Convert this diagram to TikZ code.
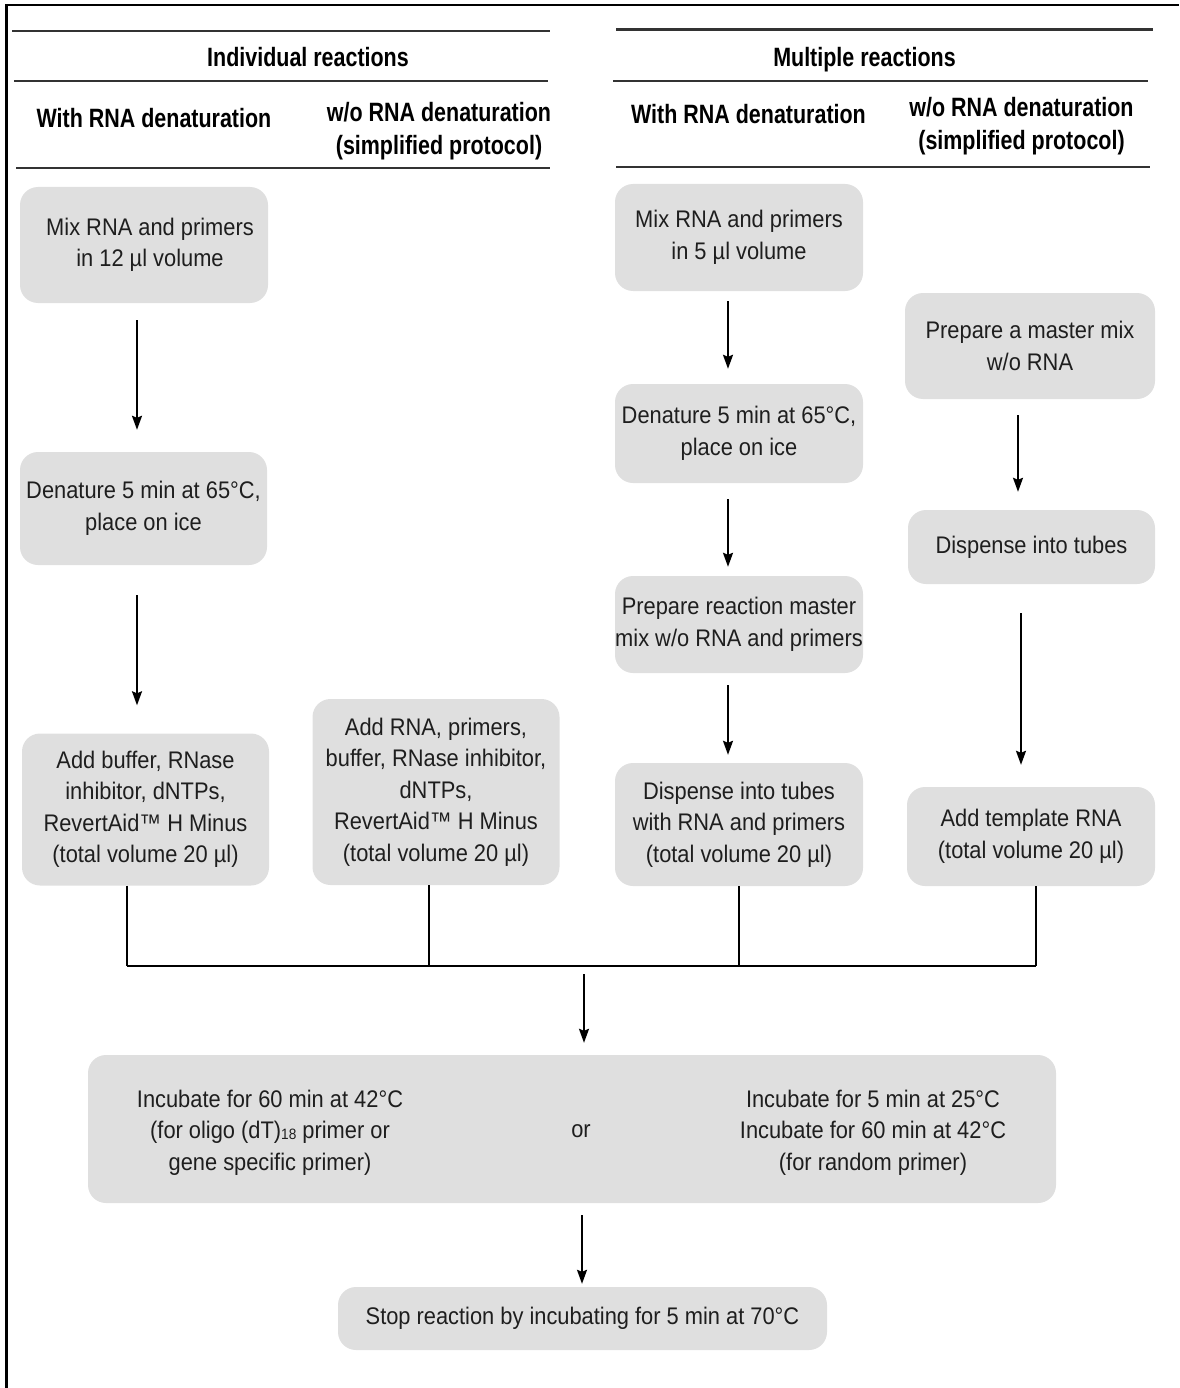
\documentclass[tikz,border=0pt]{standalone}
\usepackage{fontspec}
\setmainfont{Liberation Sans}[FakeStretch=0.91]
\newfontfamily\hdfont{Liberation Sans}[FakeStretch=0.81]
\usetikzlibrary{arrows.meta}
\definecolor{boxgray}{HTML}{DFDFDF}
\definecolor{txt}{HTML}{1E1E1E}
\definecolor{rulegray}{HTML}{333333}
\begin{document}
\begin{tikzpicture}[x=1pt,y=-1pt,
  box/.style={fill=boxgray, rounded corners=18pt, align=center, text=txt,
    font=\fontsize{24}{31.5}\selectfont, inner sep=0pt},
  bodytxt/.style={align=center, text=txt, font=\fontsize{24}{31.5}\selectfont, inner sep=0pt},
  hd/.style={font=\hdfont\bfseries\fontsize{26.5}{33}\selectfont, align=center, text=black, inner sep=0pt},
  flow/.style={line width=1.8pt, draw=black, -{Stealth[length=14pt,width=10pt,inset=2pt]}},
  bus/.style={line width=2.2pt, draw=black},
  hrule/.style={line width=2.8pt, draw=rulegray}]
\useasboundingbox (0,0) rectangle (1179,1388);
% frame
\draw[line width=2.5pt] (6.5,1388) -- (6.5,5) -- (1179,5);
% header rules
\draw[hrule] (12,31) -- (550,31);
\draw[hrule] (14,81) -- (548,81);
\draw[hrule] (16,168) -- (550,168);
\draw[hrule] (616,29.5) -- (1153,29.5);
\draw[hrule] (613,81) -- (1148,81);
\draw[hrule] (616,167) -- (1150,167);
% headers
\node[hd, anchor=base] (hInd) at (308,67) {Individual reactions};
\node[hd, anchor=base] (hIndW) at (154,128) {With RNA denaturation};
\node[hd] (hIndWo) at (439,131) {w/o RNA denaturation\\(simplified protocol)};
\node[hd, anchor=base] (hMul) at (864.5,66.7) {Multiple reactions};
\node[hd, anchor=base] (hMulW) at (748.5,124) {With RNA denaturation};
\node[hd] (hMulWo) at (1021.5,126) {w/o RNA denaturation\\(simplified protocol)};
% boxes
\node[box, minimum width=248pt, minimum height=116pt] (a1) at (144,245) {\hspace*{12pt}Mix RNA and primers\\\hspace*{12pt}in 12 µl volume};
\node[box, minimum width=247pt, minimum height=113pt] (a2) at (143.5,508.5) {Denature 5 min at 65°C,\\place on ice};
\node[box, minimum width=247pt, minimum height=152pt] (a3) at (145.5,809.5) {Add buffer, RNase\\inhibitor, dNTPs,\\RevertAid™ H Minus\\(total volume 20 µl)};
\node[box, minimum width=247pt, minimum height=186pt] (b1) at (436,792) {Add RNA, primers,\\buffer, RNase inhibitor,\\dNTPs,\\RevertAid™ H Minus\\(total volume 20 µl)};
\node[box, minimum width=248pt, minimum height=107pt] (c1) at (739,237.5) {Mix RNA and primers\\in 5 µl volume};
\node[box, minimum width=248pt, minimum height=99pt] (c2) at (739,433.5) {Denature 5 min at 65°C,\\place on ice};
\node[box, minimum width=248pt, minimum height=97pt] (c3) at (739,624.5) {Prepare reaction master\\mix w/o RNA and primers};
\node[box, minimum width=248pt, minimum height=123pt] (c4) at (739,824.5) {Dispense into tubes\\with RNA and primers\\(total volume 20 µl)};
\node[box, minimum width=250pt, minimum height=106pt] (d1) at (1030,346) {Prepare a master mix\\w/o RNA};
\node[box, minimum width=247pt, minimum height=74pt] (d2) at (1031.5,547) {Dispense into tubes};
\node[box, minimum width=248pt, minimum height=99pt] (d3) at (1031,836.5) {Add template RNA\\(total volume 20 µl)};
\node[box, minimum width=968pt, minimum height=148pt] (e) at (572,1129) {};
\node[bodytxt] (eL) at (270,1132.5) {Incubate for 60 min at 42°C\\(for oligo (dT)\raisebox{-1pt}{\fontsize{15}{15}\selectfont 18} primer or\\gene specific primer)};
\node[bodytxt, anchor=base] (eor) at (581,1137) {or};
\node[bodytxt] (eR) at (873,1132.5) {Incubate for 5 min at 25°C\\Incubate for 60 min at 42°C\\(for random primer)};
\node[box, minimum width=489pt, minimum height=63pt] (f) at (582.5,1318.5) {Stop reaction by incubating for 5 min at 70°C};
% arrow columns
\coordinate (xa) at (137,0);
\coordinate (xc) at (728,0);
\coordinate (xd1) at (1018,0);
\coordinate (xd2) at (1021,0);
\coordinate (xef) at (582,0);
\draw[flow, shorten <=17pt, shorten >=22pt] (a1.south -| xa) -- (a2.north -| xa);
\draw[flow, shorten <=30pt, shorten >=28pt] (a2.south -| xa) -- (a3.north -| xa);
\draw[flow, shorten <=10pt, shorten >=15pt] (c1.south -| xc) -- (c2.north -| xc);
\draw[flow, shorten <=16pt, shorten >=9pt] (c2.south -| xc) -- (c3.north -| xc);
\draw[flow, shorten <=12pt, shorten >=8pt] (c3.south -| xc) -- (c4.north -| xc);
\draw[flow, shorten <=16pt, shorten >=18pt] (d1.south -| xd1) -- (d2.north -| xd1);
\draw[flow, shorten <=29pt, shorten >=22pt] (d2.south -| xd2) -- (d3.north -| xd2);
% bus
\coordinate (busL) at (127,966);
\coordinate (j2) at (429,966);
\coordinate (j3) at (739,966);
\coordinate (busR) at (1036,966);
\coordinate (busmid) at (584,966);
\draw[bus] (a3.south -| busL) -- (busL);
\draw[bus] (b1.south -| j2) -- (j2);
\draw[bus] (c4.south -| j3) -- (j3);
\draw[bus] (d3.south -| busR) -- (busR);
\draw[bus] (busL) -- (busR);
\draw[flow, shorten <=8pt, shorten >=12pt] (busmid) -- (e.north -| busmid);
\draw[flow, shorten <=12pt, shorten >=3pt] (e.south -| xef) -- (f.north -| xef);
\end{tikzpicture}
\end{document}
